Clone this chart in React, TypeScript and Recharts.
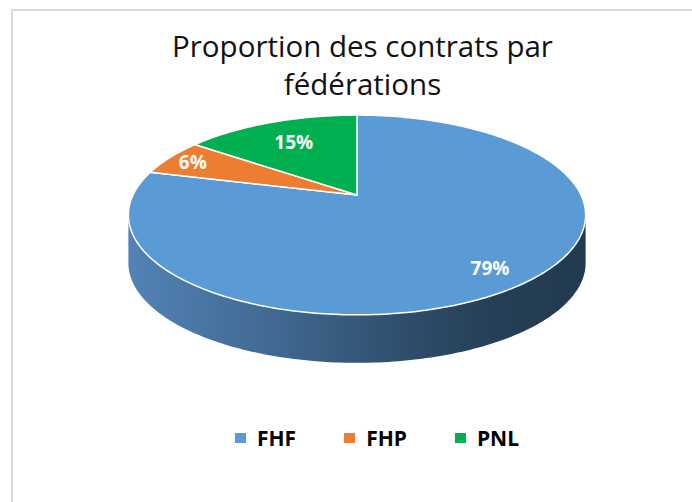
import React from "react";
import { PieChart, Pie, Cell, Legend } from "recharts";

const categories = ["FHF", "FHP", "PNL"];
const shares = [79, 6, 15];
const colors = ["#5B9BD5", "#ED7D31", "#00B050"];

const data = categories.map((name, i) => ({ name, value: shares[i] }));

// fake 3d: perspective tilt of the pie disc
const K = 0.2;
const YR = 0.428;
const DEPTH = 48;
const CX = 357;
const CY = 195;
const R = 224;
// where each % label sits, as a fraction of the radius
const labelFrac = [0.84, 0.87, 0.7];

function project(cx: number, cy: number, r: number, deg: number, f = 1, dz = 0) {
  const t = (deg * Math.PI) / 180;
  const u = f * Math.cos(t);
  const v = f * Math.sin(t);
  const d = 1 + K * v;
  return [cx + (r * u) / d, cy - (r * YR * v) / d + dz];
}

function arc(cx: number, cy: number, r: number, a: number, b: number, dz = 0) {
  const n = Math.max(2, Math.ceil(Math.abs(b - a)));
  const pts: number[][] = [];
  for (let i = 0; i <= n; i++) {
    pts.push(project(cx, cy, r, a + ((b - a) * i) / n, 1, dz));
  }
  return pts;
}

const toPath = (pts: number[][]) =>
  pts.map((p, i) => `${i ? "L" : "M"}${p[0].toFixed(2)},${p[1].toFixed(2)}`).join(" ") + " Z";

const edge = (Math.asin(K) * 180) / Math.PI;

function Slice3D(props: any) {
  const { cx, cy, outerRadius, startAngle, endAngle, fill } = props;
  const lo = Math.min(startAngle, endAngle);
  const hi = Math.max(startAngle, endAngle);

  const sides: any[] = [];
  for (let n = -2; n <= 2; n++) {
    const a = Math.max(lo, -180 + edge + 360 * n);
    const b = Math.min(hi, -edge + 360 * n);
    if (b > a) {
      const top = arc(cx, cy, outerRadius, a, b);
      const bottom = arc(cx, cy, outerRadius, b, a, DEPTH);
      sides.push(<path key={n} d={toPath([...top, ...bottom])} fill="url(#side3d)" />);
    }
  }

  const face = [[cx, cy], ...arc(cx, cy, outerRadius, startAngle, endAngle)];

  return (
    <g>
      {sides}
      <path d={toPath(face)} fill={fill} stroke="#fff" strokeWidth={1.5} strokeLinejoin="round" />
    </g>
  );
}

function renderLabel(props: any) {
  const { cx, cy, outerRadius, midAngle, percent, index } = props;
  const [x, y] = project(cx, cy, outerRadius, midAngle, labelFrac[index]);
  return (
    <text
      x={x}
      y={y}
      fill="#fff"
      textAnchor="middle"
      dominantBaseline="central"
      fontFamily="'Open Sans', sans-serif"
      fontWeight={700}
      fontSize={19}
    >
      {Math.round(percent * 100)}%
    </text>
  );
}

function renderLegend(props: any) {
  const { payload } = props;
  return (
    <div style={{ display: "flex", alignItems: "center", paddingLeft: 235 }}>
      {payload.map((entry: any) => (
        <div key={entry.value} style={{ display: "flex", alignItems: "center", marginRight: 48 }}>
          <span style={{ width: 11, height: 10, background: entry.color, marginRight: 11 }} />
          <span
            style={{
              fontFamily: "'Open Sans', sans-serif",
              fontWeight: 700,
              fontSize: 21,
              color: "#000",
            }}
          >
            {entry.value}
          </span>
        </div>
      ))}
    </div>
  );
}

export default function App() {
  const half = R / Math.sqrt(1 - K * K);

  return (
    <div
      style={{
        position: "absolute",
        left: 0,
        top: 0,
        width: 692,
        height: 502,
        overflow: "hidden",
        background: "#fff",
      }}
    >
      <div
        style={{
          position: "absolute",
          left: 11,
          top: 9,
          width: 800,
          height: 600,
          borderTop: "2px solid #d9d9d9",
          borderLeft: "2px solid #d9d9d9",
        }}
      />
      <div
        style={{
          position: "absolute",
          left: 0,
          top: 27,
          width: 725,
          textAlign: "center",
          fontFamily: "'Open Sans', sans-serif",
          fontSize: 29.5,
          lineHeight: "38px",
          color: "#111",
        }}
      >
        Proportion des contrats par
        <br />
        fédérations
      </div>

      <PieChart
        width={692}
        height={502}
        margin={{ top: 0, right: 0, bottom: 0, left: 0 }}
        style={{ position: "absolute", left: 0, top: 0 }}
      >
        <defs>
          <linearGradient id="side3d" gradientUnits="userSpaceOnUse" x1={CX - half} y1={0} x2={CX + half} y2={0}>
            <stop offset="0%" stopColor="#5283b5" />
            <stop offset="35%" stopColor="#3f668d" />
            <stop offset="60%" stopColor="#2f4e6c" />
            <stop offset="80%" stopColor="#253f56" />
            <stop offset="100%" stopColor="#223a50" />
          </linearGradient>
        </defs>
        <Pie
          data={data}
          dataKey="value"
          nameKey="name"
          cx={CX}
          cy={CY}
          outerRadius={R}
          startAngle={90}
          endAngle={-270}
          shape={Slice3D}
          activeShape={Slice3D}
          inactiveShape={Slice3D}
          label={renderLabel}
          labelLine={false}
          isAnimationActive={false}
        >
          {data.map((d, i) => (
            <Cell key={d.name} fill={colors[i]} />
          ))}
        </Pie>
        <Legend
          content={renderLegend}
          wrapperStyle={{ position: "absolute", top: 424, left: 0, bottom: "auto", width: 692 }}
        />
      </PieChart>
    </div>
  );
}
